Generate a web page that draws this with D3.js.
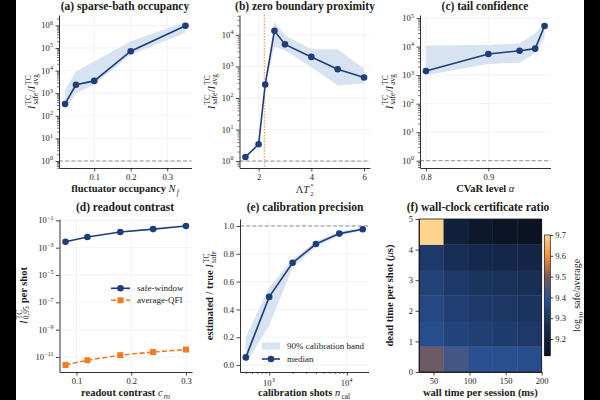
<!DOCTYPE html>
<html><head><meta charset="utf-8">
<script src="https://cdn.jsdelivr.net/npm/d3@7"></script>
<style>
html,body{margin:0;padding:0;background:#000;}
svg{display:block;}
text{font-family:"Liberation Serif","Times New Roman",serif;white-space:pre;}
</style></head><body>
<svg id="chart" width="600" height="400"></svg>
<script>
// ---------------- data ----------------
const occupancy = [0.02, 0.05, 0.1, 0.2, 0.35];
const occRatio  = [335, 2350, 3500, 72000, 970000];
const occLow    = [180, 1000, 2350, 50000, 470000];
const occHigh   = [1400, 9100, 25700, 200000, 1400000];

const detuning  = [1.5, 2.0, 2.25, 2.6, 3.0, 4.0, 5.0, 6.0];
const detRatio  = [1.34, 3.4, 267, 13400, 5000, 2000, 810, 445];
const detLow    = [1.28, 3.2, 250, 4200, 3200, 950, 250, 290];
const detHigh   = [1.42, 3.6, 285, 25700, 9800, 3500, 3500, 850];
const zeroBoundary = 2.22;

const alphaLevels = [0.8, 0.9, 0.95, 0.975, 0.99];
const alphaRatio  = [1400, 5500, 7200, 8500, 53000];
const alphaLow    = [1000, 2450, 2750, 5900, 20000];
const alphaHigh   = [11000, 11500, 13000, 29500, 63000];

const contrast   = [0.08, 0.12, 0.18, 0.24, 0.30];
const safeWindow = [2.7e-3, 6e-3, 1.4e-2, 2.3e-2, 3.9e-2];
const averageQFI = [2.6e-12, 5.8e-12, 1.35e-11, 2.3e-11, 3.5e-11];

const calShots  = [500, 1000, 2000, 4000, 8000, 16000];
const calMedian = [0.055, 0.49, 0.735, 0.87, 0.945, 0.976];
const calLow    = [0.01, 0.285, 0.70, 0.85, 0.93, 0.965];
const calHigh   = [0.2, 0.56, 0.76, 0.89, 0.96, 0.985];

const wallTimes = [30, 72.5, 115, 157.5, 200];
const deadTimes = [0, 1, 2, 3, 4, 5];
const log10Ratio = [ // rows: dead time (bottom to top), cols: wall time
  [9.48, 9.43, 9.39, 9.385, 9.38],
  [9.38, 9.345, 9.33, 9.32, 9.31],
  [9.36, 9.33, 9.31, 9.30, 9.29],
  [9.34, 9.31, 9.29, 9.28, 9.27],
  [9.31, 9.27, 9.25, 9.24, 9.23],
  [9.70, 9.20, 9.16, 9.14, 9.13]
];
const cbarTicks = [9.2, 9.3, 9.4, 9.5, 9.6, 9.7];

// ---------------- style ----------------
const NAVY = "#1f3d7a", ORANGE = "#f47b20", BANDC = "#d8e3f2", GRID = "#eceff5",
      REF = "#8a90a2", INK = "#1a1a1a";
const TICK = 8.5, LAB = 10.5, TITLE = 11.5;

const svg = d3.select("#chart");
svg.append("rect").attr("width", 600).attr("height", 400).attr("fill", "#000");
svg.append("rect").attr("x", 16).attr("width", 568).attr("height", 400).attr("fill", "#fff");

function rich(parent, x, y, segs, opt) {
  const size = opt.size;
  const g = parent.append("g");
  const inner = g.append("g");
  let cx = 0;
  const supR = opt.supRaise !== undefined ? opt.supRaise : 0.42;
  const subL = opt.subLower !== undefined ? opt.subLower : 0.25;
  const sc = opt.scriptScale || 0.7;
  const mk = (txt, xx, yy, fs, s) => {
    const t = inner.append("text").attr("x", xx).attr("y", yy).attr("font-size", fs)
      .attr("fill", opt.fill || INK)
      .attr("font-weight", (s.bold || opt.bold) && !s.it && !s.math ? "bold" : "normal")
      .attr("font-style", s.it ? "italic" : "normal").text(txt);
    return t.node().getComputedTextLength();
  };
  let prevIt = false;
  segs.forEach(s => {
    if (s.t !== undefined) {
      cx += mk(s.t, cx, 0, size, s);
      prevIt = !!s.it;
    } else {
      cx += prevIt ? 1.2 : 0.4;
      const t = inner.append("text").attr("font-size", size * sc).attr("fill", opt.fill || INK);
      let w = 0;
      if (s.sup) {
        const a = t.append("tspan").attr("x", cx).attr("y", -size * supR)
          .attr("font-style", s.supIt ? "italic" : "normal").text(s.sup);
        w = Math.max(w, a.node().getComputedTextLength());
      }
      if (s.sub) {
        const b = t.append("tspan").attr("x", cx).attr("y", size * subL)
          .attr("font-style", s.subIt ? "italic" : "normal").text(s.sub);
        w = Math.max(w, b.node().getComputedTextLength());
      }
      cx += w + 0.4;
      prevIt = false;
    }
  });
  const shift = opt.anchor === "middle" ? -cx / 2 : opt.anchor === "end" ? -cx : 0;
  inner.attr("transform", `translate(${shift},0)`);
  g.attr("transform", `translate(${x},${y})` + (opt.rotate ? ` rotate(${opt.rotate})` : ""));
  return g;
}

function styleAxis(a) {
  a.select(".domain").attr("stroke", INK).attr("stroke-width", 0.9);
  a.selectAll(".tick line").attr("stroke", INK).attr("stroke-width", 0.8);
  a.selectAll(".tick text").attr("font-family", "Liberation Serif, serif").attr("font-size", TICK).attr("fill", INK);
}

function minorsLog(domain) {
  const lo = Math.floor(Math.log10(domain[0])), hi = Math.ceil(Math.log10(domain[1]));
  const out = [];
  for (let k = lo; k <= hi; k++) for (let m = 2; m <= 9; m++) {
    const v = m * Math.pow(10, k);
    if (v >= domain[0] && v <= domain[1]) out.push(v);
  }
  return out;
}
const expStr = e => e < 0 ? "\u2212" + (-e) : String(e);

function logYAxis(g, y, xpos, exps, withMinor) {
  const a = g.append("g").attr("transform", `translate(${xpos},0)`)
    .call(d3.axisLeft(y).tickValues(exps.map(e => Math.pow(10, e))).tickSize(3.5).tickSizeOuter(0).tickFormat(() => ""));
  styleAxis(a);
  if (withMinor) {
    const m = g.append("g").attr("transform", `translate(${xpos},0)`)
      .call(d3.axisLeft(y).tickValues(minorsLog(y.domain())).tickSize(2).tickSizeOuter(0).tickFormat(() => ""));
    m.select(".domain").remove(); styleAxis(m);
    m.selectAll(".tick line").attr("stroke-width", 0.6);
  }
  exps.forEach(e => rich(g, xpos - 5.5, y(Math.pow(10, e)) + 3, [{t: "10"}, {sup: expStr(e)}], {size: TICK, anchor: "end"}));
}

function linXAxis(g, x, ypos, ticks, fmt) {
  const a = g.append("g").attr("transform", `translate(0,${ypos})`)
    .call(d3.axisBottom(x).tickValues(ticks).tickSize(3.5).tickSizeOuter(0).tickPadding(2.5).tickFormat(fmt));
  styleAxis(a);
  return a;
}
function linYAxis(g, y, xpos, ticks, fmt) {
  const a = g.append("g").attr("transform", `translate(${xpos},0)`)
    .call(d3.axisLeft(y).tickValues(ticks).tickSize(3.5).tickSizeOuter(0).tickPadding(2.5).tickFormat(fmt));
  styleAxis(a);
  return a;
}

function gridH(g, y, vals, x0, x1) {
  g.append("g").selectAll("line").data(vals).join("line")
    .attr("x1", x0).attr("x2", x1).attr("y1", d => y(d)).attr("y2", d => y(d))
    .attr("stroke", GRID).attr("stroke-width", 0.8);
}
function gridV(g, x, vals, y0, y1) {
  g.append("g").selectAll("line").data(vals).join("line")
    .attr("y1", y0).attr("y2", y1).attr("x1", d => x(d)).attr("x2", d => x(d))
    .attr("stroke", GRID).attr("stroke-width", 0.8);
}
function refH(g, y, v, x0, x1) {
  g.append("line").attr("x1", x0).attr("x2", x1).attr("y1", y(v)).attr("y2", y(v))
    .attr("stroke", REF).attr("stroke-width", 1).attr("stroke-dasharray", "4,2.2");
}
function band(g, x, y, xs, lo, hi) {
  const area = d3.area().x((d, i) => x(xs[i])).y0((d, i) => y(lo[i])).y1((d, i) => y(hi[i]));
  g.append("path").datum(xs).attr("d", area).attr("fill", BANDC).attr("stroke", "none");
}
function series(g, x, y, xs, ys, color, marker, dash) {
  const line = d3.line().x((d, i) => x(xs[i])).y((d, i) => y(ys[i]));
  g.append("path").datum(ys).attr("d", line).attr("fill", "none").attr("stroke", color)
    .attr("stroke-width", 1.6).attr("stroke-dasharray", dash || null);
  if (marker === "o") {
    g.append("g").selectAll("circle").data(ys).join("circle")
      .attr("cx", (d, i) => x(xs[i])).attr("cy", d => y(d)).attr("r", 3.3).attr("fill", color);
  } else {
    g.append("g").selectAll("rect").data(ys).join("rect")
      .attr("x", (d, i) => x(xs[i]) - 3).attr("y", d => y(d) - 3).attr("width", 6).attr("height", 6).attr("fill", color);
  }
}
function title(txt, cx, y) {
  svg.append("text").attr("x", cx).attr("y", y).attr("text-anchor", "middle")
    .attr("font-size", TITLE).attr("font-weight", "bold").attr("fill", INK).text(txt);
}
const ratioLabel = [{t: "I", it: true}, {sup: "TC", sub: "safe"}, {t: "/"}, {t: "I", it: true}, {sup: "TC", sub: "avg"}];

// ---------------- panel (a) ----------------
{
  const P = {x0: 59, x1: 191.5, y0: 15, y1: 168};
  const g = svg.append("g");
  const x = d3.scaleLinear().domain([0.0035, 0.3665]).range([P.x0, P.x1]);
  const y = d3.scaleLog().domain([Math.pow(10, -0.31), Math.pow(10, 6.46)]).range([P.y1, P.y0]);
  const exps = [0, 1, 2, 3, 4, 5, 6];
  gridH(g, y, exps.map(e => Math.pow(10, e)), P.x0, P.x1);
  gridV(g, x, [0.1, 0.2, 0.3], P.y0, P.y1);
  refH(g, y, 1, P.x0, P.x1);
  band(g, x, y, occupancy, occLow, occHigh);
  series(g, x, y, occupancy, occRatio, NAVY, "o");
  logYAxis(g, y, P.x0, exps, true);
  linXAxis(g, x, P.y1, [0.1, 0.2, 0.3], d3.format(".1f"));
  title("(a) sparse-bath occupancy", 125, 10);
  rich(g, 35, (P.y0 + P.y1) / 2, ratioLabel, {size: LAB, anchor: "middle", rotate: -90});
  rich(g, (P.x0 + P.x1) / 2, 192, [{t: "fluctuator occupancy ", bold: true}, {t: "N", it: true}, {sub: "f", subIt: true}], {size: LAB, anchor: "middle"});
}

// ---------------- panel (b) ----------------
{
  const P = {x0: 239.5, x1: 370, y0: 15, y1: 168};
  const g = svg.append("g");
  const x = d3.scaleLinear().domain([1.275, 6.225]).range([P.x0, P.x1]);
  const y = d3.scaleLog().domain([Math.pow(10, -0.22), Math.pow(10, 4.63)]).range([P.y1, P.y0]);
  const exps = [0, 1, 2, 3, 4];
  gridH(g, y, exps.map(e => Math.pow(10, e)), P.x0, P.x1);
  gridV(g, x, [2, 4, 6], P.y0, P.y1);
  refH(g, y, 1, P.x0, P.x1);
  band(g, x, y, detuning, detLow, detHigh);
  g.append("line").attr("x1", x(zeroBoundary)).attr("x2", x(zeroBoundary)).attr("y1", P.y0).attr("y2", P.y1)
    .attr("stroke", "#f5a35e").attr("stroke-width", 1.4).attr("stroke-dasharray", "1.4,1.6");
  series(g, x, y, detuning, detRatio, NAVY, "o");
  logYAxis(g, y, P.x0, exps, true);
  linXAxis(g, x, P.y1, [2, 4, 6], d3.format("d"));
  title("(b) zero boundary proximity", 305, 10);
  rich(g, 214.5, (P.y0 + P.y1) / 2, ratioLabel, {size: LAB, anchor: "middle", rotate: -90});
  rich(g, (P.x0 + P.x1) / 2, 193, [{t: "\u039B"}, {t: "T", it: true}, {sup: "*", sub: "2"}],
       {size: LAB, anchor: "middle", supRaise: 0.45, subLower: 0.3, scriptScale: 0.6});
}

// ---------------- panel (c) ----------------
{
  const P = {x0: 420, x1: 550.5, y0: 15, y1: 168};
  const g = svg.append("g");
  const x = d3.scaleLinear().domain([0.7905, 0.9995]).range([P.x0, P.x1]);
  const y = d3.scaleLog().domain([Math.pow(10, -0.256), Math.pow(10, 5.11)]).range([P.y1, P.y0]);
  const exps = [0, 1, 2, 3, 4, 5];
  gridH(g, y, exps.map(e => Math.pow(10, e)), P.x0, P.x1);
  gridV(g, x, [0.8, 0.9], P.y0, P.y1);
  refH(g, y, 1, P.x0, P.x1);
  band(g, x, y, alphaLevels, alphaLow, alphaHigh);
  series(g, x, y, alphaLevels, alphaRatio, NAVY, "o");
  logYAxis(g, y, P.x0, exps, true);
  linXAxis(g, x, P.y1, [0.8, 0.9], d3.format(".1f"));
  title("(c) tail confidence", 485, 10);
  rich(g, 392.5, (P.y0 + P.y1) / 2, ratioLabel, {size: LAB, anchor: "middle", rotate: -90});
  rich(g, (P.x0 + P.x1) / 2, 192, [{t: "CVaR level ", bold: true}, {t: "\u03B1", it: true}], {size: LAB, anchor: "middle"});
}

// ---------------- panel (d) ----------------
{
  const P = {x0: 59.5, x1: 192, y0: 219, y1: 372};
  const g = svg.append("g");
  const x = d3.scaleLinear().domain([0.069, 0.311]).range([P.x0, P.x1]);
  const y = d3.scaleLog().domain([Math.pow(10, -12.1), Math.pow(10, -0.9)]).range([P.y1, P.y0]);
  const exps = [-11, -9, -7, -5, -3, -1];
  gridH(g, y, exps.map(e => Math.pow(10, e)), P.x0, P.x1);
  gridV(g, x, [0.1, 0.2, 0.3], P.y0, P.y1);
  series(g, x, y, contrast, safeWindow, NAVY, "o");
  series(g, x, y, contrast, averageQFI, ORANGE, "s", "5,2.5");
  logYAxis(g, y, P.x0, exps, false);
  linXAxis(g, x, P.y1, [0.1, 0.2, 0.3], d3.format(".1f"));
  title("(d) readout contrast", 125, 211);
  rich(g, 26.5, (P.y0 + P.y1) / 2, [{t: "I", it: true}, {sup: "TC", sub: "0.95"}, {t: " per shot", bold: true}], {size: LAB, anchor: "middle", rotate: -90});
  rich(g, (P.x0 + P.x1) / 2, 396, [{t: "readout contrast ", bold: true}, {t: "c", it: true}, {sub: "ro", subIt: true}], {size: LAB, anchor: "middle"});
  // legend
  const L = [{name: "safe-window", c: NAVY, m: "o", dash: null, y: 288.3}, {name: "average-QFI", c: ORANGE, m: "s", dash: "5,2.5", y: 300.3}];
  L.forEach(l => {
    g.append("line").attr("x1", 111).attr("x2", 130).attr("y1", l.y).attr("y2", l.y).attr("stroke", l.c).attr("stroke-width", 1.6).attr("stroke-dasharray", l.dash);
    if (l.m === "o") g.append("circle").attr("cx", 120.5).attr("cy", l.y).attr("r", 3.3).attr("fill", l.c);
    else g.append("rect").attr("x", 117.5).attr("y", l.y - 3).attr("width", 6).attr("height", 6).attr("fill", l.c);
    g.append("text").attr("x", 137).attr("y", l.y + 3).attr("font-size", 9).attr("fill", INK).text(l.name);
  });
}

// ---------------- panel (e) ----------------
{
  const P = {x0: 240, x1: 368.5, y0: 219, y1: 372};
  const g = svg.append("g");
  const x = d3.scaleLog().domain([Math.pow(10, 2.624), Math.pow(10, 4.279)]).range([P.x0, P.x1]);
  const y = d3.scaleLinear().domain([-0.05, 1.05]).range([P.y1, P.y0]);
  const yt = [0, 0.2, 0.4, 0.6, 0.8, 1.0];
  gridH(g, y, yt, P.x0, P.x1);
  gridV(g, x, [1e3, 1e4], P.y0, P.y1);
  refH(g, y, 1, P.x0, P.x1);
  band(g, x, y, calShots, calLow, calHigh);
  series(g, x, y, calShots, calMedian, NAVY, "o");
  linYAxis(g, y, P.x0, yt, d3.format(".1f"));
  const a = g.append("g").attr("transform", `translate(0,${P.y1})`)
    .call(d3.axisBottom(x).tickValues([1e3, 1e4]).tickSize(3.5).tickSizeOuter(0).tickFormat(() => ""));
  styleAxis(a);
  const m = g.append("g").attr("transform", `translate(0,${P.y1})`)
    .call(d3.axisBottom(x).tickValues(minorsLog(x.domain())).tickSize(2).tickSizeOuter(0).tickFormat(() => ""));
  m.select(".domain").remove(); styleAxis(m); m.selectAll(".tick line").attr("stroke-width", 0.6);
  [3, 4].forEach(e => rich(g, x(Math.pow(10, e)), 386, [{t: "10"}, {sup: String(e)}], {size: TICK, anchor: "middle"}));
  title("(e) calibration precision", 305, 211);
  rich(g, 213, (P.y0 + P.y1) / 2, [{t: "estimated / true ", bold: true}, {t: "I", it: true}, {sup: "TC", sub: "safe"}], {size: LAB, anchor: "middle", rotate: -90});
  rich(g, (P.x0 + P.x1) / 2, 396, [{t: "calibration shots ", bold: true}, {t: "n", it: true}, {sub: "cal"}], {size: LAB, anchor: "middle"});
  // legend
  g.append("rect").attr("x", 262).attr("y", 342.5).attr("width", 18).attr("height", 7).attr("fill", BANDC);
  g.append("text").attr("x", 287).attr("y", 349).attr("font-size", 9).attr("fill", INK).text("90% calibration band");
  g.append("line").attr("x1", 262).attr("x2", 280).attr("y1", 359).attr("y2", 359).attr("stroke", NAVY).attr("stroke-width", 1.6);
  g.append("circle").attr("cx", 271).attr("cy", 359).attr("r", 3.3).attr("fill", NAVY);
  g.append("text").attr("x", 287).attr("y", 362).attr("font-size", 9).attr("fill", INK).text("median");
}

// ---------------- panel (f) ----------------
{
  const P = {x0: 419, x1: 541.7, y0: 219, y1: 372};
  const g = svg.append("g");
  const x = d3.scaleLinear().domain([30, 200]).range([P.x0, P.x1]);
  const y = d3.scaleLinear().domain([0, 5]).range([P.y1, P.y0]);
  const cmap = d3.scaleLinear()
    .domain([9.12, 9.26, 9.40, 9.50, 9.59, 9.70])
    .range(["#0a1120", "#172b4f", "#2b5397", "#7b5c5a", "#f08a36", "#ffd58e"])
    .interpolate(d3.interpolateRgb).clamp(true);
  const nC = wallTimes.length, nR = deadTimes.length;
  const cw = (x.domain()[1] - x.domain()[0]) / nC, rh = (y.domain()[1] - y.domain()[0]) / nR;
  const cells = [];
  log10Ratio.forEach((row, r) => row.forEach((v, c) => cells.push({r, c, v})));
  g.append("g").selectAll("rect").data(cells).join("rect")
    .attr("x", d => x(x.domain()[0] + d.c * cw))
    .attr("width", d => x(x.domain()[0] + (d.c + 1) * cw) - x(x.domain()[0] + d.c * cw) + 0.3)
    .attr("y", d => y(y.domain()[0] + (d.r + 1) * rh))
    .attr("height", d => y(y.domain()[0] + d.r * rh) - y(y.domain()[0] + (d.r + 1) * rh) + 0.3)
    .attr("fill", d => cmap(d.v));
  g.append("rect").attr("x", P.x0).attr("y", P.y0).attr("width", P.x1 - P.x0).attr("height", P.y1 - P.y0)
    .attr("fill", "none").attr("stroke", INK).attr("stroke-width", 0.8);
  linXAxis(g, x, P.y1, [50, 100, 150, 200], d3.format("d"));
  linYAxis(g, y, P.x0, [0, 1, 2, 3, 4, 5], d3.format("d"));
  title("(f) wall-clock certificate ratio", 478, 211);
  rich(g, 392.5, (P.y0 + P.y1) / 2, [{t: "dead time per shot (", bold: true}, {t: "\u03BC", it: true}, {t: "s)", bold: true}], {size: LAB, anchor: "middle", rotate: -90});
  rich(g, (P.x0 + P.x1) / 2, 396, [{t: "wall time per session (ms)", bold: true}], {size: LAB, anchor: "middle"});
  // colorbar
  const C = {x0: 544.3, x1: 550.3, y0: 235, y1: 355.7};
  const cy = d3.scaleLinear().domain([9.12, 9.70]).range([C.y1, C.y0]);
  const steps = d3.range(0, 121);
  g.append("g").selectAll("rect").data(steps).join("rect")
    .attr("x", C.x0).attr("width", C.x1 - C.x0)
    .attr("y", d => C.y0 + d * (C.y1 - C.y0) / 121).attr("height", (C.y1 - C.y0) / 121 + 0.4)
    .attr("fill", d => cmap(cy.invert(C.y0 + (d + 0.5) * (C.y1 - C.y0) / 121)));
  g.append("rect").attr("x", C.x0).attr("y", C.y0).attr("width", C.x1 - C.x0).attr("height", C.y1 - C.y0)
    .attr("fill", "none").attr("stroke", INK).attr("stroke-width", 0.7);
  const ca = g.append("g").attr("transform", `translate(${C.x1},0)`)
    .call(d3.axisRight(cy).tickValues(cbarTicks).tickSize(3).tickSizeOuter(0).tickPadding(2).tickFormat(d3.format(".1f")));
  styleAxis(ca); ca.select(".domain").remove();
  rich(g, 580, (C.y0 + C.y1) / 2, [{t: "log"}, {sub: "10"}, {t: " safe/average"}], {size: 10, anchor: "middle", rotate: -90});
}
</script>
</body></html>
